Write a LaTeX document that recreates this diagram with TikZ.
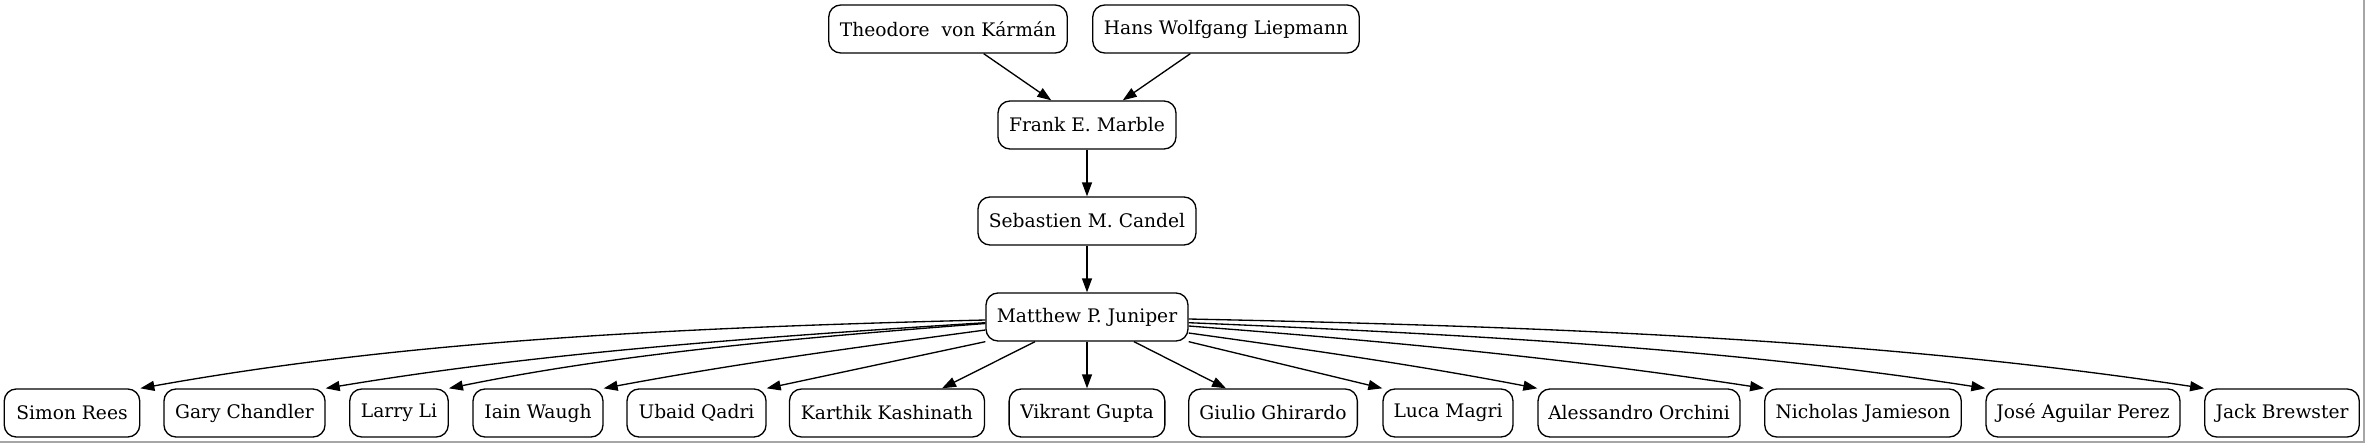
\documentclass[tikz,border=0pt]{standalone}
\usepackage{fontspec}
\setmainfont{DejaVu Serif}
\usetikzlibrary{arrows.meta,calc}
\begin{document}
\begin{tikzpicture}[x=0.75pt,y=-0.75pt,
  box/.style={draw, line width=1pt, rounded corners=9pt, minimum height=36pt, inner sep=0pt, font=\fontsize{14pt}{17pt}\selectfont},
  edge/.style={draw, line width=1pt, -{Triangle[length=10.5pt,width=7.5pt]}},
  frameline/.style={draw=black!35, line width=1.5pt}]
\useasboundingbox[fill=white] (0,0) rectangle (2365,443);
\draw[frameline] (0,442.2) -- (2364.2,442.2) -- (2364.2,0);
% top
\node[box, minimum width=178.9pt] (theo) at (948,29) {Theodore\ \ von Kármán};
\node[box, minimum width=199.9pt] (hans) at (1226,29) {Hans Wolfgang Liepmann};
\node[box, minimum width=133.5pt] (frank) at (1087,125) {Frank E. Marble};
\node[box, minimum width=163.5pt] (seb) at (1087,221) {Sebastien M. Candel};
\node[box, minimum width=151.5pt] (jun) at (1087,317) {Matthew P. Juniper};
% bottom row
\node[box, minimum width=101.6pt] (simon) at (72,413) {Simon Rees};
\node[box, minimum width=120.8pt] (gary) at (244.5,413) {Gary Chandler};
\node[box, minimum width=73.9pt] (larry) at (399,413) {Larry Li};
\node[box, minimum width=97.5pt] (iain) at (538,413) {Iain Waugh};
\node[box, minimum width=104.3pt] (ubaid) at (696.5,413) {Ubaid Qadri};
\node[box, minimum width=146.3pt] (karthik) at (887,413) {Karthik Kashinath};
\node[box, minimum width=116.8pt] (vikrant) at (1087,413) {Vikrant Gupta};
\node[box, minimum width=126.5pt] (giulio) at (1273,413) {Giulio Ghirardo};
\node[box, minimum width=97.5pt] (luca) at (1448,413) {Luca Magri};
\node[box, minimum width=151.5pt] (aless) at (1639,413) {Alessandro Orchini};
\node[box, minimum width=147.4pt] (nich) at (1863,413) {Nicholas Jamieson};
\node[box, minimum width=145.5pt] (jose) at (2083,413) {José Aguilar Perez};
\node[box, minimum width=115.9pt] (jack) at (2282,413) {Jack Brewster};
% top edges
\draw[edge] (theo) -- (frank);
\draw[edge] (hans) -- (frank);
\draw[edge] (frank) -- (seb);
\draw[edge] (seb) -- (jun);
% fan-out
\draw[edge] ($(jun.west)+(0,3)$) .. controls +(-338,8.3) and +(254,-45.5) .. (simon.north east);
\draw[edge] ($(jun.west)+(0,5.7)$) .. controls +(-264,16.6) and +(198,-33) .. (gary.north east);
\draw[edge] ($(jun.west)+(0,6.5)$) .. controls +(-215,16.4) and +(161,-32.7) .. (larry.north east);
\draw[edge] ($(jun.west)+(0,13)$) .. controls +(-134,18) and +(134,-25) .. (iain.north east);
\draw[edge] (jun.south west) -- (ubaid.north east);
\draw[edge] ($(jun.south)+(-52,0)$) -- ($(karthik.north)+(55,0)$);
\draw[edge] (jun.south) -- (vikrant.north);
\draw[edge] ($(jun.south)+(47,0)$) -- ($(giulio.north)+(-47,0)$);
\draw[edge] (jun.south east) -- (luca.north west);
\draw[edge] ($(jun.east)+(0,16)$) .. controls +(122,17) and +(-122,-23.5) .. (aless.north west);
\draw[edge] ($(jun.east)+(0,9)$) .. controls +(231,17.6) and +(-173,-26.5) .. (nich.north west);
\draw[edge] ($(jun.east)+(0,5.7)$) .. controls +(319,13.3) and +(-239,-37) .. (jose.north west);
\draw[edge] ($(jun.east)+(0,2)$) .. controls +(406,8.4) and +(-305,-46) .. (jack.north west);
\end{tikzpicture}
\end{document}
